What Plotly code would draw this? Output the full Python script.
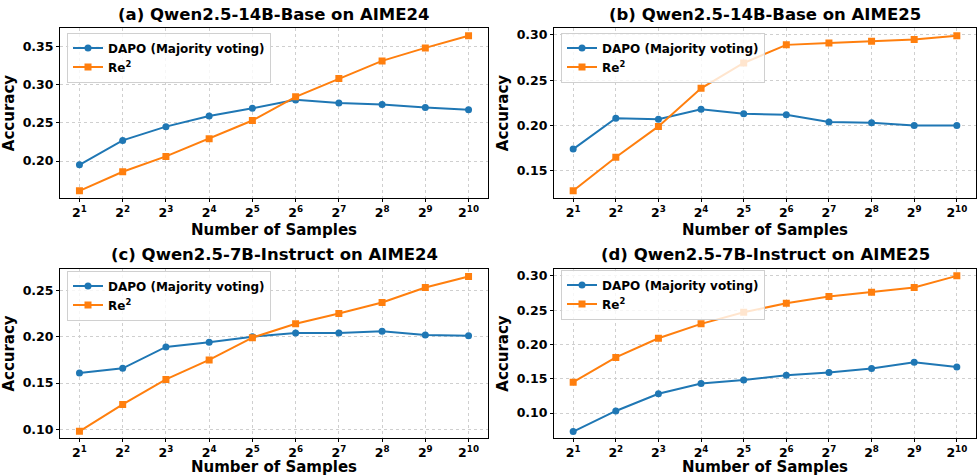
import plotly.graph_objects as go

exponents = [1, 2, 3, 4, 5, 6, 7, 8, 9, 10]
tick_labels = [f"2<sup>{e}</sup>" for e in exponents]

titles = [
    "(a) Qwen2.5-14B-Base on AIME24",
    "(b) Qwen2.5-14B-Base on AIME25",
    "(c) Qwen2.5-7B-Instruct on AIME24",
    "(d) Qwen2.5-7B-Instruct on AIME25",
]

dapo_a = [0.195, 0.227, 0.245, 0.259, 0.269, 0.280, 0.276, 0.274, 0.270, 0.267]
re2_a = [0.161, 0.186, 0.206, 0.229, 0.253, 0.284, 0.308, 0.331, 0.348, 0.364]

dapo_b = [0.174, 0.208, 0.207, 0.218, 0.213, 0.212, 0.204, 0.203, 0.200, 0.200]
re2_b = [0.128, 0.165, 0.199, 0.241, 0.269, 0.289, 0.291, 0.293, 0.295, 0.299]

dapo_c = [0.161, 0.166, 0.189, 0.194, 0.200, 0.204, 0.204, 0.206, 0.202, 0.201]
re2_c = [0.098, 0.127, 0.154, 0.175, 0.199, 0.214, 0.225, 0.237, 0.253, 0.265]

dapo_d = [0.073, 0.103, 0.128, 0.143, 0.148, 0.155, 0.159, 0.165, 0.174, 0.167]
re2_d = [0.145, 0.181, 0.209, 0.230, 0.247, 0.260, 0.270, 0.276, 0.283, 0.300]

panels = [(dapo_a, re2_a), (dapo_b, re2_b), (dapo_c, re2_c), (dapo_d, re2_d)]
yranges = [[0.151, 0.3745], [0.1195, 0.308], [0.0904, 0.2735], [0.063, 0.3106]]

W, H = 977, 476
# plot areas in pixels (left, right, top, bottom)
boxes = [(60, 488, 28, 201), (554, 976, 28, 201), (60, 488, 272, 444), (554, 976, 272, 444)]
legend_pos = [(67, 33), (561, 33), (67, 274), (561, 273)]
title_y = [15, 15, 258, 258]

BLUE = "#1f77b4"
ORANGE = "#ff7f0e"
FONT = "DejaVu Sans"

fig = go.Figure()
annotations = []
layout = {}
for i, ((dapo, re2), (l, r, t, b)) in enumerate(zip(panels, boxes)):
    n = i + 1
    sfx = "" if n == 1 else str(n)
    leg = "legend" if n == 1 else f"legend{n}"
    fig.add_trace(go.Scatter(
        x=exponents, y=dapo, mode="lines+markers", name="DAPO (Majority voting)",
        line=dict(color=BLUE, width=2), marker=dict(symbol="circle", size=7, color=BLUE),
        xaxis="x" + sfx, yaxis="y" + sfx, legend=leg))
    fig.add_trace(go.Scatter(
        x=exponents, y=re2, mode="lines+markers", name="Re<sup>2</sup>",
        line=dict(color=ORANGE, width=2), marker=dict(symbol="square", size=7, color=ORANGE),
        xaxis="x" + sfx, yaxis="y" + sfx, legend=leg))
    axis_common = dict(
        showline=True, linecolor="black", linewidth=1, mirror=True,
        showgrid=True, gridcolor="#cfcfcf", griddash="dot", gridwidth=1,
        ticks="outside", ticklen=3, tickcolor="black", zeroline=False,
        tickfont=dict(family=FONT, size=12.5, color="black", weight="bold"),
    )
    layout["xaxis" + sfx] = dict(
        axis_common, domain=[l / W, r / W], anchor="y" + sfx,
        range=[0.55, 10.45], tickmode="array", tickvals=exponents, ticktext=tick_labels,
        title=dict(text="<b>Number of Samples</b>", font=dict(family=FONT, size=15, color="black"), standoff=5),
    )
    layout["yaxis" + sfx] = dict(
        axis_common, domain=[1 - b / H, 1 - t / H], anchor="x" + sfx,
        range=yranges[i], dtick=0.05, tickformat=".2f",
        title=dict(text="<b>Accuracy</b>", font=dict(family=FONT, size=15, color="black"), standoff=4),
    )
    lx, ly = legend_pos[i]
    layout[leg] = dict(
        x=lx / W, y=1 - ly / H, xanchor="left", yanchor="top",
        bgcolor="rgba(255,255,255,0.8)", bordercolor="#d0d0d0", borderwidth=1,
        font=dict(family=FONT, size=12, color="black", weight="bold"),
        tracegroupgap=0, itemwidth=30,
    )
    annotations.append(dict(
        text=f"<b>{titles[i]}</b>", x=(l + r) / 2 / W, y=1 - title_y[i] / H,
        xref="paper", yref="paper", xanchor="center", yanchor="middle", showarrow=False,
        font=dict(family=FONT, size=16.5, color="black"),
    ))

fig.update_layout(
    width=W, height=H, margin=dict(l=0, r=0, t=0, b=0),
    plot_bgcolor="white", paper_bgcolor="white",
    annotations=annotations, showlegend=True,
    font=dict(family=FONT, color="black"),
    **layout,
)
fig.write_html("out.html")
